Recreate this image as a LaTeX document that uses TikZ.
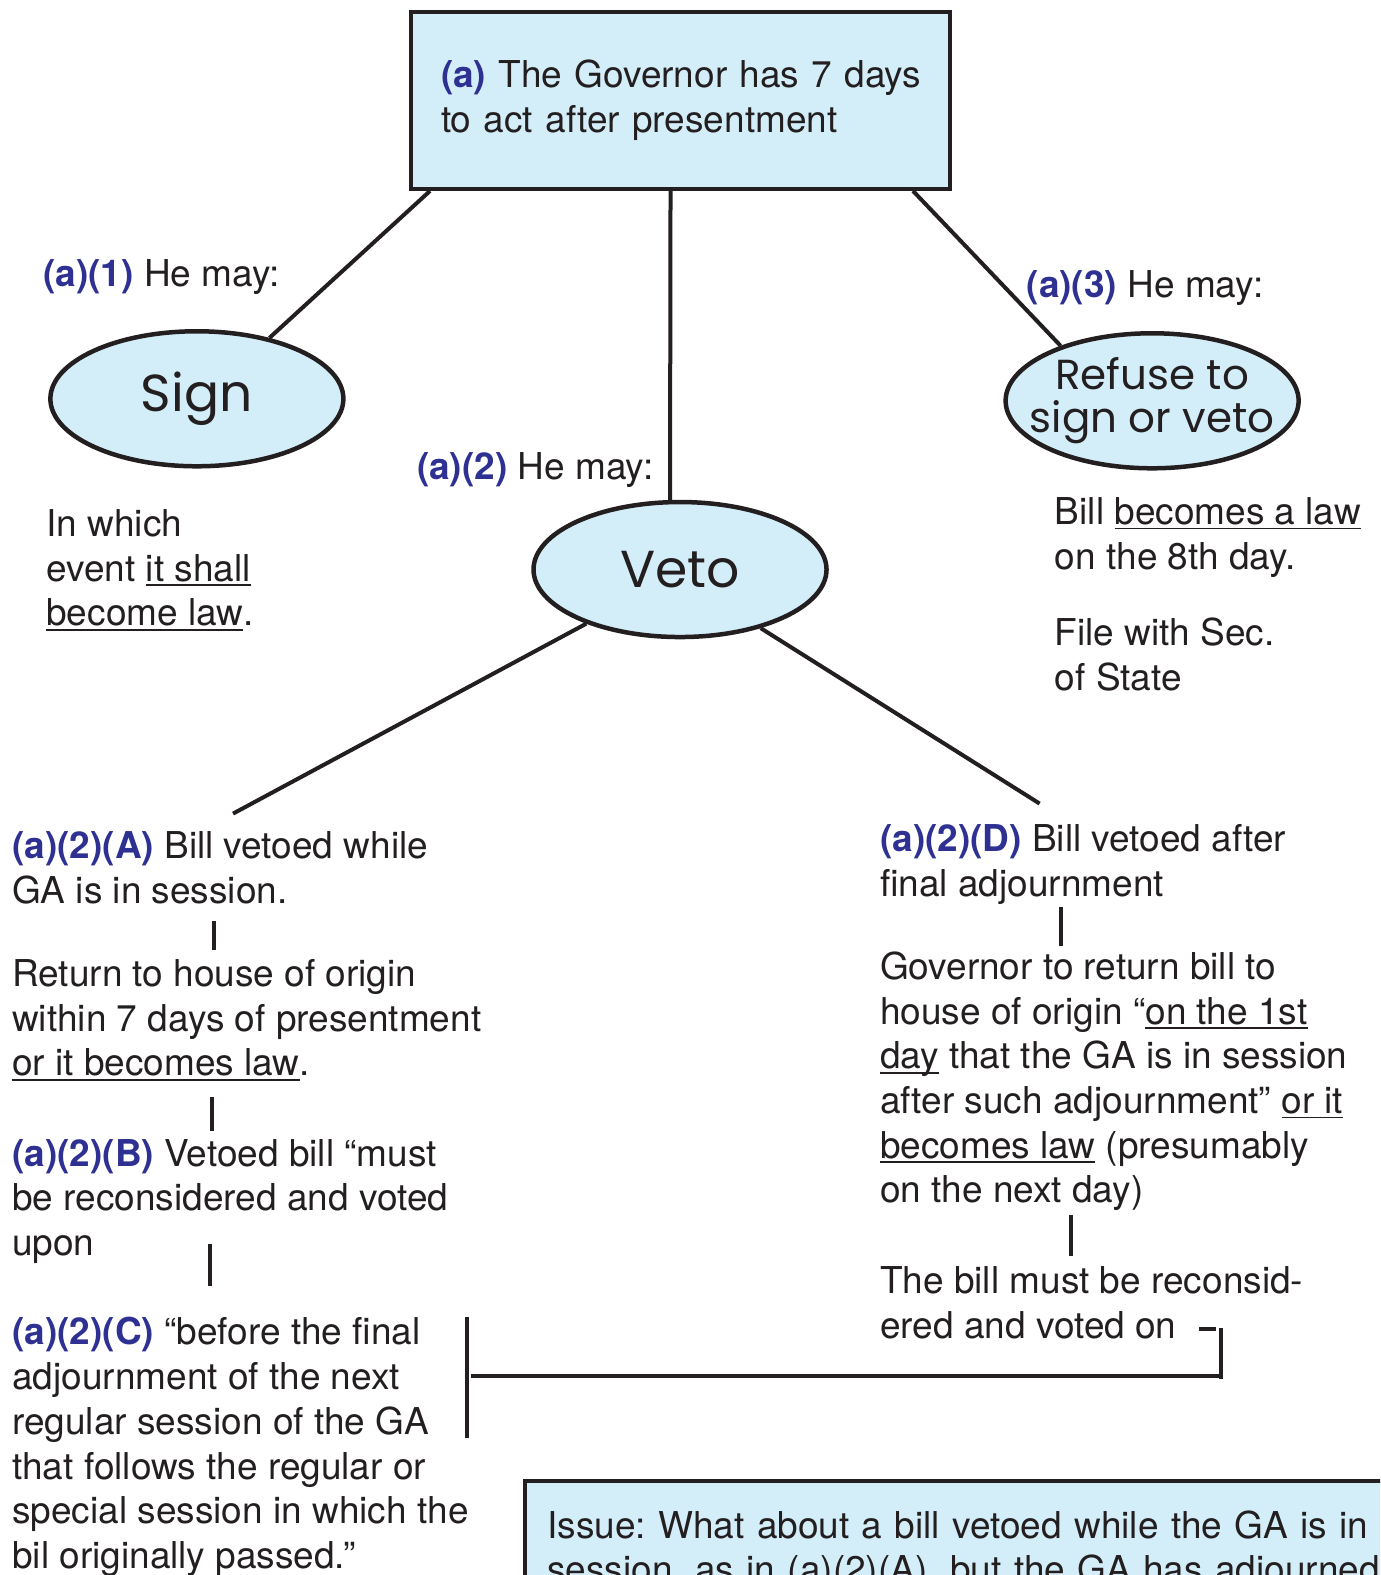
\documentclass[tikz,border=0pt]{standalone}
\usepackage{fontspec}
\setmainfont{TeX Gyre Heros}
\newfontfamily\ellfont{Poppins}
\usetikzlibrary{shapes.geometric}
\definecolor{ink}{HTML}{231F20}
\definecolor{lblue}{HTML}{D4EEF9}
\definecolor{secblue}{HTML}{2E3192}
\frenchspacing
\newcommand\lbl[1]{{\bfseries\color{secblue}#1}}
\newsavebox\ulbox
\newcommand\ul[1]{\sbox\ulbox{#1}\rlap{\rule[-5pt]{\wd\ulbox}{1.8pt}}\usebox\ulbox}
\newcommand\stk[1]{\vtop{\halign{##\hfil\cr#1\crcr}}}
\tikzset{
  txt/.style={anchor=base west, inner sep=0pt, text=ink, font=\fontsize{37}{44.7}\selectfont},
  conn/.style={draw=ink, line width=4pt},
  ell/.style={ellipse, draw=ink, line width=4.5pt, fill=lblue, minimum width=293pt,
    minimum height=135pt, inner sep=0pt},
  elltxt/.style={inner sep=0pt, text=ink, align=center,
    font=\ellfont\fontsize{52}{52}\selectfont},
  boxed/.style={draw=ink, line width=4pt, fill=lblue, text=ink, align=left,
    font=\fontsize{37}{44.7}\selectfont}
}
\begin{document}
\begin{tikzpicture}[x=1.0044pt, y=-1.0044pt]
\useasboundingbox (0,0) rectangle (1374,1568);
\clip (0,0) rectangle (1374,1568);

% top box
\node[boxed, minimum width=539pt, minimum height=177pt, text width=479pt,
  inner xsep=30pt, inner ysep=0pt] (top) at (677.5,100)
  {\mbox{\lbl{(a)} The Governor has 7 days}\\ \mbox{to act after presentment}};

% ellipses
\node[ell] (sign) at (196,397) {};
\node[elltxt] (signt) at (sign.center) {Sign};
\node[ell] (veto) at (677,567) {};
\node[elltxt] (vetot) at (veto.center) {Veto};
\node[ell] (refuse) at (1147,399) {};
\node[elltxt, font=\ellfont\fontsize{42}{43}\selectfont] (refuset) at (refuse.center) {Refuse to\\ sign or veto};

% labels
\node[txt] (l1) at (43,285) {\lbl{(a)(1)} He may:};
\node[txt] (l2) at (415,477) {\lbl{(a)(2)} He may:};
\node[txt] (l3) at (1022,296) {\lbl{(a)(3)} He may:};

\node[txt] (signres) at (46,534) {\stk{In which\cr event \ul{it shall}\cr \ul{become law}.}};
\node[txt] (refres) at (1050,522) {\stk{Bill \ul{becomes a law}\cr on the 8th day.}};
\node[txt] (refile) at (1050,643) {\stk{File with Sec.\cr of State}};

% left column
\node[txt] (a2a) at (12,855) {\stk{\lbl{(a)(2)(A)} Bill vetoed while\cr GA is in session.}};
\node[txt] (ret) at (12,982) {\stk{Return to house of origin\cr within 7 days of presentment\cr \ul{or it becomes law}.}};
\node[txt] (a2b) at (12,1161) {\stk{\lbl{(a)(2)(B)} Vetoed bill “must\cr be reconsidered and voted\cr upon}};
\node[txt] (a2c) at (12,1339) {\stk{\lbl{(a)(2)(C)} “before the final\cr adjournment of the next\cr regular session of the GA\cr that follows the regular or\cr special session in which the\cr bil originally passed.”}};

% right column
\node[txt] (a2d) at (876,848) {\stk{\lbl{(a)(2)(D)} Bill vetoed after\cr final adjournment}};
\node[txt] (gov) at (876,975) {\stk{Governor to return bill to\cr house of origin “\ul{on the 1st}\cr \ul{day} that the GA is in session\cr after such adjournment” \ul{or it}\cr \ul{becomes law} (presumably\cr on the next day)}};
\node[txt] (recon) at (876,1288) {\stk{The bill must be reconsid-\cr ered and voted on}};

% issue box
\node[boxed, anchor=north west, inner xsep=22pt, inner ysep=30pt, text width=900pt] (issue) at (521,1472)
  {Issue: What about a bill vetoed while the GA is in\\ session, as in (a)(2)(A), but the GA has adjourned};

% connectors from top box and veto
\draw[conn] ([xshift=21pt]top.south west) -- (sign.40);
\draw[conn] ([xshift=-10pt]top.south) -- ([xshift=-10pt]veto.north);
\draw[conn] ([xshift=-39pt]top.south east) -- (refuse.149);
\coordinate (pA) at (232,810);
\coordinate (pD) at (1035,800);
\draw[conn] (veto.210) -- (pA);
\draw[conn] (veto.324) -- (pD);

% ticks
\coordinate (t1a) at (213,917); \coordinate (t1b) at (213,946);
\coordinate (t2a) at (211,1092); \coordinate (t2b) at (211,1126);
\coordinate (t3a) at (209,1238); \coordinate (t3b) at (209,1280);
\coordinate (t4a) at (1056,903); \coordinate (t4b) at (1056,942);
\coordinate (t5a) at (1066,1210); \coordinate (t5b) at (1066,1250);
\draw[conn] (t1a) -- (t1b);
\draw[conn] (t2a) -- (t2b);
\draw[conn] (t3a) -- (t3b);
\draw[conn] (t4a) -- (t4b);
\draw[conn] (t5a) -- (t5b);

% bracket joining (C) and reconsidered
\coordinate (bL1) at (465,1311); \coordinate (bL2) at (465,1432);
\coordinate (hL) at (469,1370); \coordinate (hR) at (1214,1370);
\coordinate (bR1) at (1216,1322); \coordinate (bR2) at (1216,1373);
\coordinate (dA) at (1194,1323); \coordinate (dB) at (1211,1323);
\draw[conn] (bL1) -- (bL2);
\draw[conn] (hL) -- (hR);
\draw[conn] (bR1) -- (bR2);
\draw[conn] (dA) -- (dB);
\end{tikzpicture}
\end{document}
